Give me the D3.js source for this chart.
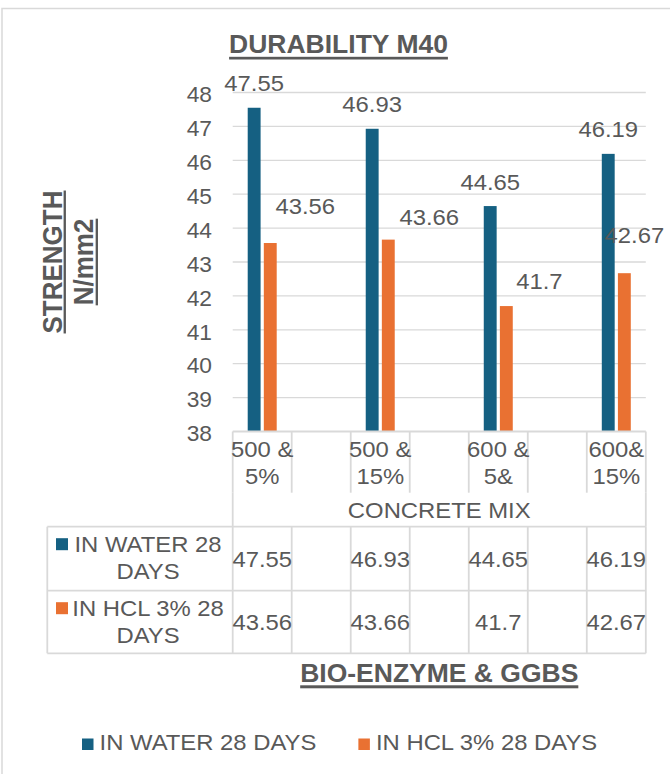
<!DOCTYPE html>
<html>
<head>
<meta charset="utf-8">
<script src="https://cdn.jsdelivr.net/npm/d3@7"></script>
<style>
  html, body { margin: 0; padding: 0; background: #ffffff; }
  svg { display: block; }
</style>
</head>
<body>
<script>
// ---- data ----
const chartTitle = "DURABILITY M40";
const xTitle = "CONCRETE MIX";
const tableTitle = "BIO-ENZYME & GGBS";
const yTitleLines = ["STRENGTH", "N/mm2"];
// category slots (blank slots are empty columns in the workbook)
const categories = ["500 & 5%", "", "500 & 15%", "", "600 & 5&", "", "600& 15%"];
const seriesNames = ["IN WATER 28 DAYS", "IN HCL 3% 28 DAYS"];
const waterValues = [47.55, null, 46.93, null, 44.65, null, 46.19];
const hclValues = [43.56, null, 43.66, null, 41.7, null, 42.67];
const yTickValues = [38, 39, 40, 41, 42, 43, 44, 45, 46, 47, 48];

// ---- style ----
const seriesColors = ["#156082", "#E97132"];
const INK = "#595959";
const RULE = "#d9d9d9";
const FONT = "'Liberation Sans', Arial, sans-serif";
const SX = 1.06; // horizontal glyph stretch
const TXT = "22.5px";

// ---- layout ----
const W = 670, H = 774;
const plotLeft = 232.7, plotRight = 645.8, plotTop = 92.5, plotBottom = 431.5;
const catRowBottom = 492.7;
const tableRows = [526.7, 590.7, 653.3];
const tableLeft = 47.3;
// manual offsets of individual data labels [dx, dy], per series per slot
const labelNudge = [
  [[0, 0], null, [0, 0], null, [0, 0], null, [0, 0]],
  [[35, -13], null, [41, 2], null, [33, -1], null, [10, -14]]
];

const seriesValues = [waterValues, hclValues];

const svg = d3.select("body").append("svg")
  .attr("width", W).attr("height", H)
  .style("font-family", FONT);

svg.append("rect").attr("width", W).attr("height", H).attr("fill", "#fff");

// chart area frame
svg.append("rect")
  .attr("x", 2).attr("y", 8.5).attr("width", 700).attr("height", 800)
  .attr("fill", "none").attr("stroke", RULE).attr("stroke-width", 1.5);

const x = d3.scaleBand().domain(d3.range(categories.length)).range([plotLeft, plotRight]);
const pairW = 29;
const x1 = d3.scaleBand().domain(d3.range(seriesNames.length)).range([0, pairW]).paddingInner(0.2);
const y = d3.scaleLinear().domain([38, 48]).range([plotBottom, plotTop]);

function stretchAt(px, py) { return `translate(${px},${py}) scale(${SX},1)`; }
function underline(textSel, cx, top, h) {
  const w = textSel.node().getComputedTextLength() * SX;
  svg.append("rect").attr("x", cx - w / 2).attr("y", top).attr("width", w).attr("height", h).attr("fill", INK);
}

// gridlines
svg.append("g").selectAll("line")
  .data(yTickValues.filter(t => t > 38))
  .join("line")
  .attr("x1", plotLeft).attr("x2", plotRight)
  .attr("y1", d => y(d)).attr("y2", d => y(d))
  .attr("stroke", RULE).attr("stroke-width", 1.3);

// y axis labels
const yAxis = svg.append("g")
  .attr("transform", "translate(212,0)")
  .call(d3.axisLeft(y).tickValues(yTickValues).tickSize(0).tickPadding(0).tickFormat(d3.format("d")));
yAxis.select(".domain").remove();
yAxis.selectAll("text")
  .attr("x", 0).attr("dy", "0.43em")
  .attr("transform", `scale(${SX},1)`)
  .style("font-family", FONT).style("font-size", "21.5px").attr("fill", INK);

// bars
seriesValues.forEach((vals, s) => {
  const pts = vals.map((v, i) => ({ v, i })).filter(d => d.v != null);
  svg.append("g").selectAll("rect")
    .data(pts).join("rect")
    .attr("x", d => x(d.i) + (x.bandwidth() - pairW) / 2 + x1(s))
    .attr("y", d => y(d.v))
    .attr("width", x1.bandwidth())
    .attr("height", d => y(38) - y(d.v))
    .attr("fill", seriesColors[s]);

  svg.append("g").selectAll("text")
    .data(pts).join("text")
    .attr("text-anchor", "middle")
    .attr("transform", d => {
      const n = labelNudge[s][d.i] || [0, 0];
      const cx = x(d.i) + (x.bandwidth() - pairW) / 2 + x1(s) + x1.bandwidth() / 2;
      return stretchAt(cx + n[0], y(d.v) - 16.5 + n[1]);
    })
    .style("font-size", TXT).attr("fill", INK)
    .text(d => String(d.v));
});

// category axis / data table rules
const bounds = d3.range(categories.length + 1).map(b => plotLeft + b * x.step());
const rules = svg.append("g").attr("stroke", RULE).attr("stroke-width", 1.8);
rules.append("line").attr("x1", plotLeft).attr("x2", plotRight).attr("y1", plotBottom).attr("y2", plotBottom);
bounds.forEach(bx => {
  rules.append("line").attr("x1", bx).attr("x2", bx).attr("y1", plotBottom).attr("y2", catRowBottom);
  rules.append("line").attr("x1", bx).attr("x2", bx).attr("y1", tableRows[0]).attr("y2", tableRows[2]);
});
[plotLeft, plotRight].forEach(bx => {
  rules.append("line").attr("x1", bx).attr("x2", bx).attr("y1", catRowBottom).attr("y2", tableRows[0]);
});
rules.append("line").attr("x1", tableLeft).attr("x2", tableLeft).attr("y1", tableRows[0]).attr("y2", tableRows[2]);
tableRows.forEach(ty => {
  rules.append("line").attr("x1", tableLeft).attr("x2", plotRight).attr("y1", ty).attr("y2", ty);
});

function splitLast(str) {
  const k = str.lastIndexOf(" ");
  return k < 0 ? [str] : [str.slice(0, k), str.slice(k + 1)];
}

// category labels
categories.forEach((c, i) => {
  if (!c) return;
  const cx = x(i) + x.bandwidth() / 2;
  splitLast(c).forEach((ln, j) => {
    svg.append("text").attr("text-anchor", "middle")
      .attr("transform", stretchAt(cx, 456.7 + j * 27.5))
      .style("font-size", TXT).attr("fill", INK).text(ln);
  });
});

// x axis title
svg.append("text").attr("text-anchor", "middle")
  .attr("transform", stretchAt((plotLeft + plotRight) / 2, 517.7))
  .style("font-size", TXT).attr("fill", INK).text(xTitle);

// data table rows
seriesValues.forEach((vals, s) => {
  const top = tableRows[s], bot = tableRows[s + 1];
  svg.append("rect").attr("x", 56).attr("y", top + 11.5).attr("width", 12).attr("height", 12)
    .attr("fill", seriesColors[s]);
  splitLast(seriesNames[s]).forEach((ln, j) => {
    svg.append("text").attr("text-anchor", "middle")
      .attr("transform", stretchAt(148, top + 25 + j * 27.5))
      .style("font-size", TXT).attr("fill", INK).text(ln);
  });
  vals.forEach((v, i) => {
    if (v == null) return;
    svg.append("text").attr("text-anchor", "middle")
      .attr("transform", stretchAt(x(i) + x.bandwidth() / 2, (top + bot) / 2 + 8))
      .style("font-size", TXT).attr("fill", INK).text(String(v));
  });
});

// titles
const t1 = svg.append("text").attr("text-anchor", "middle")
  .attr("transform", stretchAt(338.5, 53.3))
  .style("font-size", "25px").style("font-weight", "bold").attr("fill", INK).text(chartTitle);
underline(t1, 338.5, 56.8, 2.7);

const t2 = svg.append("text").attr("text-anchor", "middle")
  .attr("transform", stretchAt((plotLeft + plotRight) / 2, 682.3))
  .style("font-size", "25px").style("font-weight", "bold").attr("fill", INK).text(tableTitle);
underline(t2, (plotLeft + plotRight) / 2, 685.3, 3);

// y axis title (two underlined lines)
[[62, 1.5], [93, 2.5]].forEach(([bx, uo], j) => {
  const g = svg.append("g").attr("transform", `translate(${bx},262) rotate(-90) scale(1,${SX})`);
  const t = g.append("text").attr("text-anchor", "middle")
    .style("font-size", "26px").style("font-weight", "bold").attr("fill", INK).text(yTitleLines[j]);
  const w = t.node().getComputedTextLength();
  g.append("rect").attr("x", -w / 2).attr("y", uo).attr("width", w).attr("height", 2.2).attr("fill", INK);
});

// legend
let lx = 82;
seriesNames.forEach((name, s) => {
  svg.append("rect").attr("x", lx).attr("y", 738.5).attr("width", 11.5).attr("height", 11.5)
    .attr("fill", seriesColors[s]);
  const t = svg.append("text")
    .attr("transform", stretchAt(lx + 17.6, 750))
    .style("font-size", TXT).attr("fill", INK).text(name);
  lx += 17.6 + t.node().getComputedTextLength() * SX + 42;
});
</script>
</body>
</html>
